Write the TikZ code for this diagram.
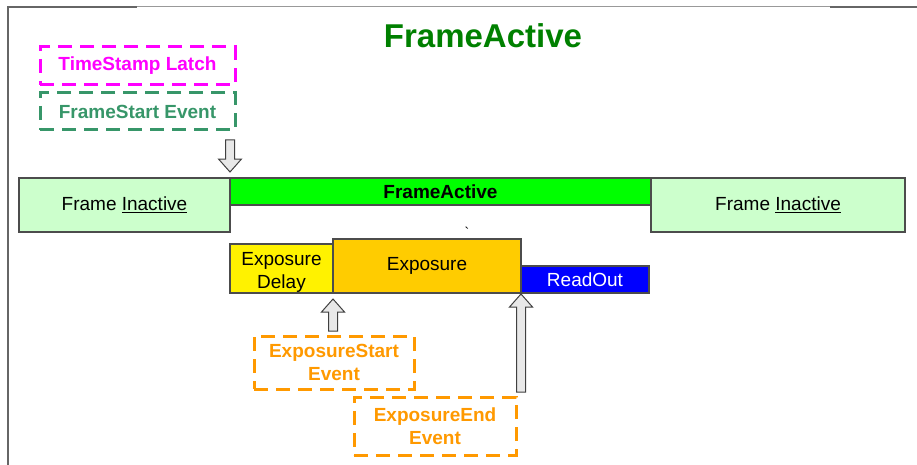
\documentclass[tikz,border=0pt]{standalone}
\usepackage{fontspec}
\setmainfont{Liberation Sans}
\usetikzlibrary{calc,positioning}

\definecolor{titlegreen}{RGB}{0,128,0}
\definecolor{latchmag}{RGB}{255,0,255}
\definecolor{startgreen}{RGB}{55,150,105}
\definecolor{evorange}{RGB}{255,153,0}
\definecolor{inactgreen}{RGB}{204,255,204}
\definecolor{actgreen}{RGB}{0,255,0}
\definecolor{expyellow}{RGB}{255,204,0}
\definecolor{arrgray}{RGB}{232,232,232}

\tikzset{
  lbl/.style={font=\fontsize{19}{23}\selectfont, align=center, inner sep=0pt},
  evbox/.style={lbl, draw=#1, text=#1, line width=3pt, dash pattern=on 14pt off 8pt,
    font=\fontsize{19}{23}\selectfont\bfseries},
  bar/.style={lbl, draw=black!70, line width=1.2pt, fill=#1, outer sep=0pt},
  blockarr/.style={draw=black!75, fill=arrgray, line width=1pt, line join=miter},
}

\newcommand{\blockarrow}[2]{%
  \draw[blockarr] let \p1=(#1), \p2=(#2), \p3=($(#2)!13pt!(#1)$) in
    (\x2,\y2) -- (\x2+11.5pt,\y3) -- (\x2+4.5pt,\y3) -- (\x2+4.5pt,\y1)
    -- (\x2-4.5pt,\y1) -- (\x2-4.5pt,\y3) -- (\x2-11.5pt,\y3) -- cycle;
}

\begin{document}
\begin{tikzpicture}[x=1pt, y=-1pt]
\useasboundingbox (0,0) rectangle (917,465);
\draw[black!60, line width=1.5pt] (8,465) -- (8,7) -- (137,7);
\draw[black!40, line width=1pt] (137,7) -- (830,7);
\draw[black!60, line width=1.5pt] (830,7) -- (917,7);

\node[font=\fontsize{33}{40}\selectfont\bfseries, text=titlegreen] (title) at (483,36) {FrameActive};

\node[evbox=latchmag, minimum width=195pt, minimum height=38pt] (tsl) at (137.5,66) {TimeStamp Latch};
\node[evbox=startgreen, minimum width=195pt, minimum height=37pt, below=5pt of tsl] (fse) {FrameStart Event};

\node[bar=inactgreen, minimum width=211pt, minimum height=54pt, anchor=north west] (inL) at (19,178) {Frame \underline{Inactive}};
\node[bar=actgreen, font=\fontsize{19}{23}\selectfont\bfseries, minimum width=421pt, minimum height=27pt,
  anchor=north west] (fa) at (inL.north east) {FrameActive};
\node[bar=inactgreen, minimum width=254pt, minimum height=54pt, anchor=north west] (inR) at (fa.north east) {Frame \underline{Inactive}};
\node[font=\fontsize{14}{14}\selectfont, inner sep=0pt] (tick) at (467,232) {\textasciigrave};

\node[bar=yellow, minimum width=103pt, minimum height=49pt, anchor=south west] (delay) at (230,293) {\\[-2pt]Exposure\\Delay};
\node[bar=expyellow, minimum width=188pt, minimum height=54pt, anchor=south west] (expo) at (delay.south east) {\strut Exposure};
\node[bar=blue, text=white, minimum width=128pt, minimum height=27pt, anchor=south west] (ro) at (expo.south east) {ReadOut};

\node[evbox=evorange, minimum width=160pt, minimum height=53pt] (esEv) at (334,362.5) {ExposureStart\\Event};
\node[evbox=evorange, minimum width=162pt, minimum height=58pt] (eeEv) at (435,426) {ExposureEnd\\Event};

\coordinate (fsTail) at (229.5,140);
\coordinate (fsTip) at ($(fa.north west)+(0,-6)$);
\coordinate (esTail) at (333,331);
\coordinate (esTip) at ($(expo.south west)+(0,6)$);
\coordinate (eeTail) at (521,392);
\coordinate (eeTip) at ($(expo.south east)+(0,1)$);
\blockarrow{fsTail}{fsTip}
\blockarrow{esTail}{esTip}
\blockarrow{eeTail}{eeTip}
\end{tikzpicture}
\end{document}
